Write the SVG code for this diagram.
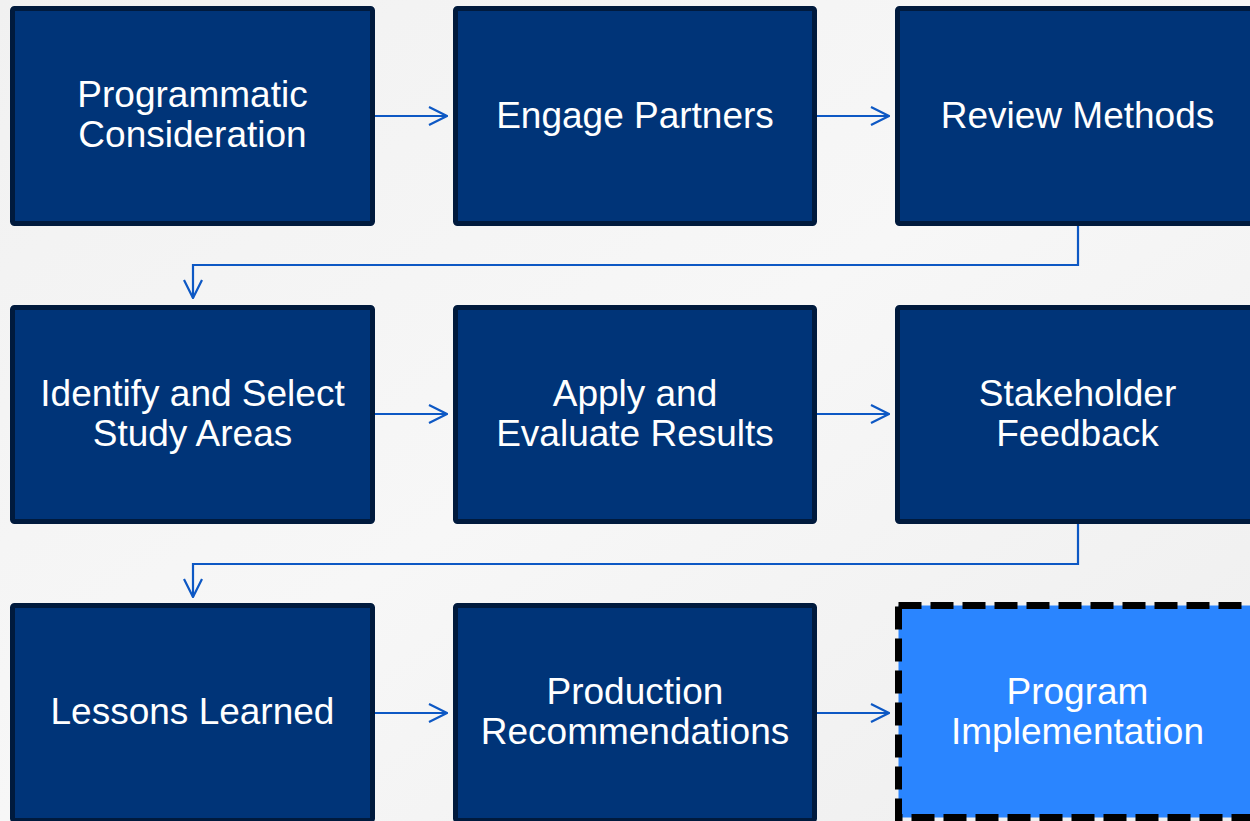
<svg xmlns="http://www.w3.org/2000/svg" width="1250" height="821" viewBox="0 0 1250 821">
  <style>
    .box { fill: #003478; stroke: #001a3d; stroke-width: 5; }
    .focus { fill: #2a85ff; stroke: #000000; stroke-width: 7; stroke-dasharray: 23 9; }
    .label { font-family: "Liberation Sans", Arial, sans-serif; font-size: 37px; fill: #ffffff; text-anchor: middle; }
    .link { fill: none; stroke: #0d58c4; stroke-width: 2.2; marker-end: url(#chev); }
  </style>
  <defs>
    <marker id="chev" viewBox="0 0 20 20" refX="19" refY="10" markerWidth="20" markerHeight="20" markerUnits="userSpaceOnUse" orient="auto">
      <path d="M1 1 L19 10 L1 19" fill="none" stroke="#0d58c4" stroke-width="2.2"/>
    </marker>
    <linearGradient id="bg" x1="0" y1="0" x2="1" y2="1">
      <stop offset="0" stop-color="#f1f1f1"/>
      <stop offset="0.5" stop-color="#f7f7f7"/>
      <stop offset="1" stop-color="#eeeeee"/>
    </linearGradient>
  </defs>

  <rect width="1250" height="821" fill="url(#bg)"/>

  <!-- connectors -->
  <g id="connectors">
    <path class="link" d="M375 116 H447"/>
    <path class="link" d="M817 116 H889"/>
    <path class="link" d="M1078 226 V265 H193 V298"/>
    <path class="link" d="M375 414 H447"/>
    <path class="link" d="M817 414 H889"/>
    <path class="link" d="M1078 524 V564 H193 V597"/>
    <path class="link" d="M375 713 H447"/>
    <path class="link" d="M817 713 H889"/>
  </g>

  <!-- row 1 -->
  <g id="programmatic-consideration">
    <rect class="box" x="12.5" y="8.5" width="360" height="215" rx="2"/>
    <text class="label" x="192.5" y="107">Programmatic</text>
    <text class="label" x="192.5" y="147">Consideration</text>
  </g>
  <g id="engage-partners">
    <rect class="box" x="455.5" y="8.5" width="359" height="215" rx="2"/>
    <text class="label" x="635" y="128">Engage Partners</text>
  </g>
  <g id="review-methods">
    <rect class="box" x="897.5" y="8.5" width="360" height="215" rx="2"/>
    <text class="label" x="1077.5" y="128">Review Methods</text>
  </g>

  <!-- row 2 -->
  <g id="identify-study-areas">
    <rect class="box" x="12.5" y="307.5" width="360" height="214" rx="2"/>
    <text class="label" x="192.5" y="406">Identify and Select</text>
    <text class="label" x="192.5" y="446">Study Areas</text>
  </g>
  <g id="apply-evaluate">
    <rect class="box" x="455.5" y="307.5" width="359" height="214" rx="2"/>
    <text class="label" x="635" y="406">Apply and</text>
    <text class="label" x="635" y="446">Evaluate Results</text>
  </g>
  <g id="stakeholder-feedback">
    <rect class="box" x="897.5" y="307.5" width="360" height="214" rx="2"/>
    <text class="label" x="1077.5" y="406">Stakeholder</text>
    <text class="label" x="1077.5" y="446">Feedback</text>
  </g>

  <!-- row 3 -->
  <g id="lessons-learned">
    <rect class="box" x="12.5" y="605.5" width="360" height="215" rx="2"/>
    <text class="label" x="192.5" y="724">Lessons Learned</text>
  </g>
  <g id="production-recommendations">
    <rect class="box" x="455.5" y="605.5" width="359" height="215" rx="2"/>
    <text class="label" x="635" y="704">Production</text>
    <text class="label" x="635" y="744">Recommendations</text>
  </g>
  <g id="program-implementation">
    <rect class="focus" x="898.5" y="605.5" width="360" height="212"/>
    <text class="label" x="1077.5" y="704">Program</text>
    <text class="label" x="1077.5" y="744">Implementation</text>
  </g>
</svg>
